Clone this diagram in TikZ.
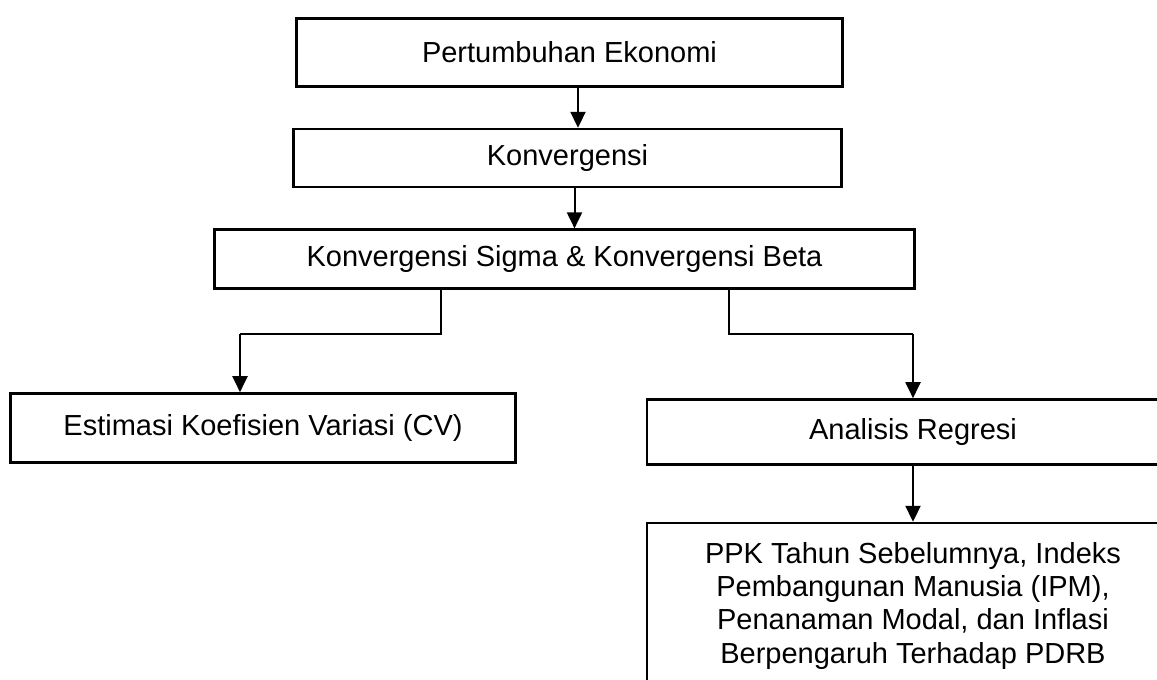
\documentclass[tikz,border=0pt]{standalone}
\usepackage{fontspec}
\setmainfont{Liberation Sans}
\usetikzlibrary{arrows.meta,positioning}
\tikzset{
  kotak/.style = {draw=black, line width=2.6pt, align=center, inner sep=0pt,
                  font=\fontsize{29}{33.3}\selectfont},
  ar/.style    = {-{Triangle[length=16pt,width=15pt]}, line width=2pt},
  garis/.style = {line width=1.2pt},
}
\begin{document}
\begin{tikzpicture}[x=1pt, y=-1pt, node distance=40pt]
  \useasboundingbox (0,0) rectangle (1157,680);
  \node[kotak, minimum width=546pt, minimum height=68pt] (eko) at (569.5,52.5) {Pertumbuhan Ekonomi};
  \node[kotak, minimum width=548pt, minimum height=58pt, below=of eko, xshift=-2pt] (konv) {Konvergensi};
  \node[kotak, minimum width=700pt, minimum height=59pt, below=of konv, xshift=-3pt] (sb) {Konvergensi Sigma \& Konvergensi Beta};
  \node[kotak, minimum width=505pt, minimum height=69pt] (cv) at (263,428) {Estimasi Koefisien Variasi (CV)};
  \node[kotak, minimum width=532pt, minimum height=65pt] (reg) at (913,432) {Analisis Regresi};
  \node[kotak, minimum width=532pt, inner ysep=19pt, below=56pt of reg] (hasil)
    {PPK Tahun Sebelumnya, Indeks\\Pembangunan Manusia (IPM),\\Penanaman Modal, dan Inflasi\\Berpengaruh Terhadap PDRB};
  \draw[ar] ([xshift=8.5pt]eko.south) -- ([xshift=8.5pt]eko.south |- konv.north);
  \draw[ar] ([xshift=7pt]konv.south) -- ([xshift=7pt]konv.south |- sb.north);
  % cabang ke dua arah
  \coordinate (tekukKiri) at (240,334);
  \coordinate (tekukKanan) at (reg.north |- tekukKiri);
  \draw[garis] ([xshift=-123.5pt]sb.south) |- (tekukKiri);
  \draw[ar] (tekukKiri) -- (tekukKiri |- cv.north);
  \draw[garis] ([xshift=164.5pt]sb.south) |- (tekukKanan);
  \draw[ar] (tekukKanan) -- (reg.north);
  \draw[ar] (reg) -- (hasil);
\end{tikzpicture}
\end{document}
